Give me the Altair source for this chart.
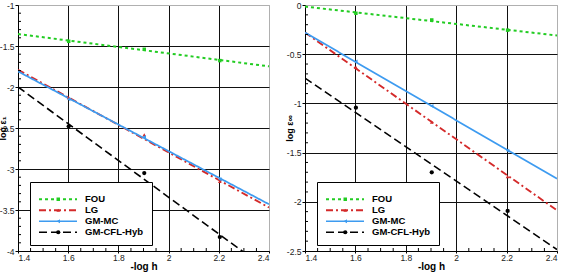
import altair as alt
import pandas as pd

# Series styling
series = ["FOU", "LG", "GM-MC", "GM-CFL-Hyb"]
colors = ["#22cc22", "#d42a2a", "#3d9bf0", "#000000"]
dashes = [[3, 3], [7, 3, 2, 3], [1, 0], [8, 4]]
widths = [2.0, 1.6, 1.2, 2.0]
shapes = ["square", "triangle-up", "triangle-left", "circle"]
sizes = [12, 18, 18, 30]

# Mesh levels (-log h) of the computed errors, and the ends of the fitted lines
h_pts = [1.602, 1.903, 2.204]
h_fit = [1.4, 2.4]

# log of the L1 error
fou_l1 = [-1.443, -1.54, -1.678]
lg_l1 = [-2.13, -2.585, -3.15]
mc_l1 = [-2.15, -2.61, -3.125]
hyb_l1 = [-2.48, -3.05, -3.83]
fou_l1_fit = [-1.354, -1.748]
lg_l1_fit = [-1.79, -3.47]
mc_l1_fit = [-1.81, -3.43]
hyb_l1_fit = [-2.0, -4.24]

# log of the max-norm error
fou_inf = [-0.084, -0.152, -0.256]
lg_inf = [-0.634, -1.19, -1.743]
mc_inf = [-0.573, -1.026, -1.48]
hyb_inf = [-1.043, -1.70, -2.093]
fou_inf_fit = [-0.016, -0.31]
lg_inf_fit = [-0.28, -2.087]
mc_inf_fit = [-0.28, -1.766]
hyb_inf_fit = [-0.743, -2.485]

# Axis ticks
x_ticks = [1.4, 1.6, 1.8, 2.0, 2.2, 2.4]
x_minor = [1.45, 1.5, 1.55, 1.65, 1.7, 1.75, 1.85, 1.9, 1.95,
           2.05, 2.1, 2.15, 2.25, 2.3, 2.35]
y_ticks_l1 = [-4, -3.5, -3, -2.5, -2, -1.5, -1]
y_minor_l1 = [-3.9, -3.8, -3.7, -3.6, -3.4, -3.3, -3.2, -3.1,
              -2.9, -2.8, -2.7, -2.6, -2.4, -2.3, -2.2, -2.1,
              -1.9, -1.8, -1.7, -1.6, -1.4, -1.3, -1.2, -1.1]
y_ticks_inf = [-2.5, -2, -1.5, -1, -0.5, 0]
y_minor_inf = [-2.4, -2.3, -2.2, -2.1, -1.9, -1.8, -1.7, -1.6,
               -1.4, -1.3, -1.2, -1.1, -0.9, -0.8, -0.7, -0.6,
               -0.4, -0.3, -0.2, -0.1]

FONT = "Liberation Sans"
W_L, W_R, H = 251, 252, 246


def panel(pts_vals, fit_vals, ydom, yticks, yminor, ytitle, width):
    pts = pd.DataFrame([
        {"h": x, "err": v, "mk": s}
        for s, vals in zip(series, pts_vals) for x, v in zip(h_pts, vals)
    ])
    fit = pd.DataFrame([
        {"h": x, "err": v, "series": s}
        for s, vals in zip(series, fit_vals) for x, v in zip(h_fit, vals)
    ])

    xs = alt.Scale(domain=[1.4, 2.4], nice=False, zero=False)
    ys = alt.Scale(domain=ydom, nice=False, zero=False)
    xaxis = alt.Axis(
        values=x_ticks, labelExpr="'' + datum.value", title="-log h",
        tickSize=2, labelPadding=0, titlePadding=0,
        gridColor={"condition": {"test": "datum.value >= 2.39", "value": "#b0b0b0"},
                   "value": "#111111"},
    )
    yaxis = alt.Axis(
        values=yticks, labelExpr="'' + datum.value", title=ytitle,
        tickSize=3, labelPadding=1, titleFontSize=9, titleX=-11,
        gridColor={"condition": {"test": "datum.value >= %s" % (ydom[1] - 0.01),
                                 "value": "#b0b0b0"},
                   "value": "#111111"},
    )

    def X():
        return alt.X("h:Q", scale=xs, axis=xaxis)

    def Y():
        return alt.Y("err:Q", scale=ys, axis=yaxis)

    leg_common = dict(
        orient="none", legendX=12, legendY=177, title=" ", titleFontSize=4,
        titlePadding=0.5, padding=8, clipHeight=9.5, rowPadding=0,
        labelFont=FONT, labelFontSize=9.5, labelFontWeight="bold",
        labelColor="black",
    )
    line_legend = alt.Legend(
        symbolType="stroke", symbolSize=1444, symbolStrokeWidth=1.5,
        labelOffset=7, fillColor="white", strokeColor="black", **leg_common
    )
    marker_legend = alt.Legend(
        symbolStrokeWidth=0, symbolOffset=15.5, labelOpacity=0, **leg_common
    )

    lines = alt.Chart(fit).mark_line(clip=True).encode(
        x=X(), y=Y(),
        color=alt.Color("series:N", scale=alt.Scale(domain=series, range=colors),
                        legend=line_legend),
        strokeDash=alt.StrokeDash("series:N", scale=alt.Scale(domain=series, range=dashes),
                                  legend=line_legend),
        strokeWidth=alt.StrokeWidth("series:N", scale=alt.Scale(domain=series, range=widths),
                                    legend=None),
    )
    points = alt.Chart(pts).mark_point(filled=True, opacity=1).encode(
        x=X(), y=Y(),
        color=alt.Color("mk:N", scale=alt.Scale(domain=series, range=colors),
                        legend=marker_legend),
        shape=alt.Shape("mk:N", scale=alt.Scale(domain=series, range=shapes),
                        legend=marker_legend),
        size=alt.Size("mk:N", scale=alt.Scale(domain=series, range=sizes),
                      legend=marker_legend),
    )
    ymin = alt.Chart(pd.DataFrame({"err": yminor})).mark_rule(
        color="black", strokeWidth=1
    ).encode(y=Y(), x=alt.value(0), x2=alt.value(3))
    xmin = alt.Chart(pd.DataFrame({"h": x_minor})).mark_rule(
        color="black", strokeWidth=1
    ).encode(x=X(), y=alt.value(H), y2=alt.value(H - 3))

    return alt.layer(lines, points, ymin, xmin).resolve_scale(
        color="independent", strokeDash="independent", strokeWidth="independent",
        shape="independent", size="independent",
    ).properties(width=width, height=H)


left = panel([fou_l1, lg_l1, mc_l1, hyb_l1],
             [fou_l1_fit, lg_l1_fit, mc_l1_fit, hyb_l1_fit],
             [-4, -1], y_ticks_l1, y_minor_l1, "log ε₁", W_L)
right = panel([fou_inf, lg_inf, mc_inf, hyb_inf],
              [fou_inf_fit, lg_inf_fit, mc_inf_fit, hyb_inf_fit],
              [-2.5, 0], y_ticks_inf, y_minor_inf, "log ε∞", W_R)

chart = alt.hconcat(left, right, spacing=14).resolve_scale(
    color="independent", strokeDash="independent", shape="independent",
    size="independent", strokeWidth="independent",
).properties(
    padding={"left": -3, "top": 0, "right": 0, "bottom": 0},
).configure_view(
    stroke="#b0b0b0", strokeWidth=1,
).configure_axis(
    labelFont=FONT, labelFontSize=8.5, labelColor="#222222",
    titleFont=FONT, titleFontSize=10, titleFontWeight="bold", titleColor="black",
    domainColor="black", domainWidth=1, tickColor="black",
    gridWidth=1, gridOpacity=1,
)

chart.save("out.html", embed_options={"renderer": "svg", "actions": False})
